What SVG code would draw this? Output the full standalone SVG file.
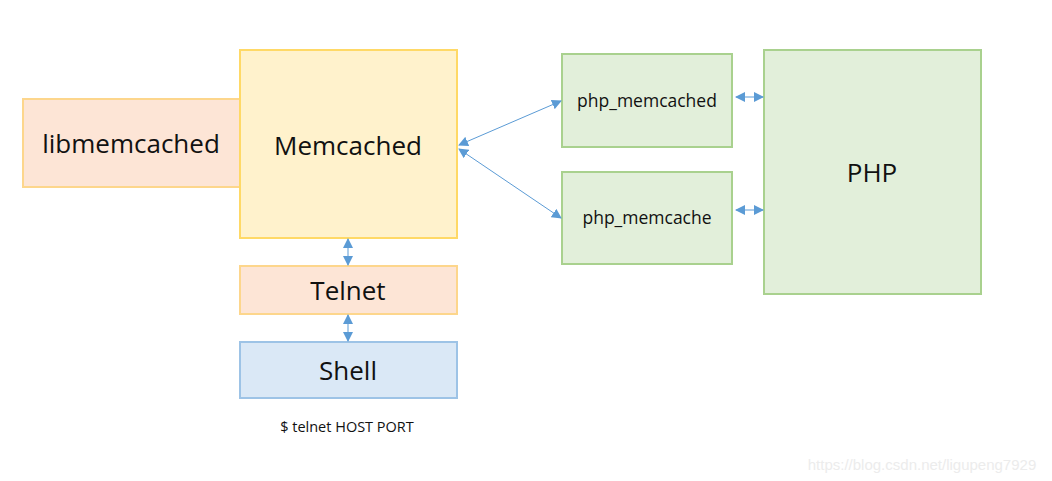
<svg xmlns="http://www.w3.org/2000/svg" width="1052" height="481" viewBox="0 0 1052 481">
<defs>
<style>
.t{font-family:"Open Sans","Noto Sans",sans-serif;fill:#111;text-anchor:middle}
.big{font-size:26px}
.mid{font-size:17.5px}
.peach{fill:#fde5d6;stroke:#fdd68c;stroke-width:2}
.yel{fill:#fff2cc;stroke:#ffd966;stroke-width:2}
.blue{fill:#dae8f6;stroke:#9dc3e6;stroke-width:2}
.green{fill:#e2efda;stroke:#a9d18e;stroke-width:2}
.c{stroke:#5b9bd5;stroke-width:1;fill:none;marker-start:url(#a);marker-end:url(#a)}
</style>
<marker id="a" viewBox="0 0 10 10" refX="9" refY="5" markerWidth="10" markerHeight="10" markerUnits="userSpaceOnUse" orient="auto-start-reverse">
<path d="M0,0 L10,5 L0,10 z" fill="#5b9bd5"/>
</marker>
</defs>
<rect width="1052" height="481" fill="#fff"/>
<g id="libmemcached"><rect class="peach" x="23" y="99" width="217" height="88"/><text class="t big" x="131" y="153">libmemcached</text></g>
<g id="memcached"><rect class="yel" x="240" y="50" width="217" height="188"/><text class="t big" x="348" y="155">Memcached</text></g>
<g id="telnet"><rect class="peach" x="240" y="266" width="217" height="48"/><text class="t big" x="348" y="300">Telnet</text></g>
<g id="shell"><rect class="blue" x="240" y="342" width="217" height="56"/><text class="t big" x="348" y="380">Shell</text></g>
<g id="cmd"><text class="t" style="font-size:14.5px" x="347" y="432">$ telnet HOST PORT</text></g>
<g id="php_memcached"><rect class="green" x="562" y="54" width="170" height="93"/><text class="t mid" x="647" y="107">php_memcached</text></g>
<g id="php_memcache"><rect class="green" x="562" y="172" width="170" height="92"/><text class="t mid" x="647" y="224">php_memcache</text></g>
<g id="php"><rect class="green" x="764" y="50" width="217" height="244"/><text class="t big" x="872" y="182">PHP</text></g>
<g id="connectors">
<line class="c" x1="459" y1="145" x2="561" y2="101"/>
<line class="c" x1="459" y1="149" x2="561" y2="218"/>
<line class="c" x1="348" y1="239" x2="348" y2="265"/>
<line class="c" x1="348" y1="315" x2="348" y2="341"/>
<line class="c" x1="736" y1="97" x2="763" y2="97"/>
<line class="c" x1="736" y1="210" x2="763" y2="210"/>
</g>
<text x="922" y="470" style="font-family:'Liberation Sans',sans-serif;font-size:15px;fill:#ececec;text-anchor:middle">https://blog.csdn.net/ligupeng7929</text>
</svg>
